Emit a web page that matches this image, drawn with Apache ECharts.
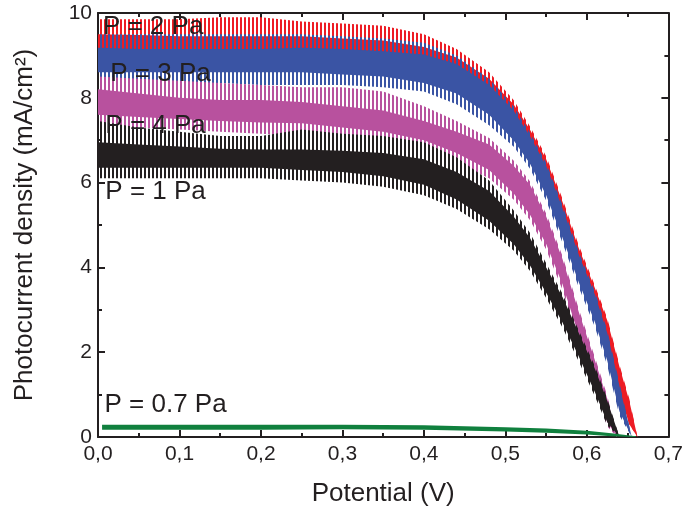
<!DOCTYPE html>
<html>
<head>
<meta charset="utf-8">
<script src="https://cdn.jsdelivr.net/npm/echarts@6/dist/echarts.min.js"></script>
<style>
  html, body { margin: 0; padding: 0; background: #fff; }
  #chart { width: 686px; height: 512px; }
</style>
</head>
<body>
<div id="chart"></div>
<script>
// 坐标轴刻度
const xTicks = [0, 0.1, 0.2, 0.3, 0.4, 0.5, 0.6, 0.7];
const yTicks = [0, 2, 4, 6, 8, 10];

// P = 2 Pa (红)
const red_V    = [0, 0.05, 0.1, 0.15, 0.2, 0.25, 0.3, 0.35, 0.4, 0.44, 0.48, 0.51, 0.53, 0.55, 0.57, 0.59, 0.61, 0.625, 0.64, 0.652, 0.662];
const red_hi   = [9.5, 9.48, 9.45, 9.45, 9.45, 9.45, 9.4, 9.35, 9.2, 8.95, 8.45, 7.85, 7.25, 6.55, 5.55, 4.45, 3.5, 2.75, 1.65, 0.85, 0];
const red_lo   = [9.0, 9.0, 9.0, 9.0, 9.0, 9.0, 8.95, 8.9, 8.75, 8.45, 7.85, 7.2, 6.6, 5.85, 4.85, 3.8, 2.85, 2.1, 1.05, 0.3, 0];
const red_spHi = [9.85, 9.85, 9.85, 9.9, 9.9, 9.8, 9.75, 9.7, 9.5, 9.15, 8.6, 7.95, 7.33, 6.62, 5.62, 4.52, 3.56, 2.8, 1.7, 0.9, 0];

// P = 3 Pa (蓝)
const blue_V    = [0, 0.05, 0.1, 0.15, 0.2, 0.25, 0.3, 0.35, 0.4, 0.44, 0.48, 0.51, 0.53, 0.55, 0.57, 0.59, 0.61, 0.625, 0.64, 0.655];
const blue_hi   = [9.18, 9.15, 9.15, 9.15, 9.15, 9.18, 9.15, 9.1, 9.02, 8.8, 8.3, 7.7, 7.1, 6.4, 5.4, 4.3, 3.35, 2.45, 1.2, 0];
const blue_lo   = [8.6, 8.6, 8.6, 8.6, 8.6, 8.6, 8.55, 8.5, 8.35, 8.1, 7.6, 7.0, 6.45, 5.7, 4.7, 3.65, 2.7, 1.8, 0.6, 0];
const blue_spHi = [9.5, 9.5, 9.5, 9.5, 9.5, 9.5, 9.45, 9.4, 9.3, 9.0, 8.45, 7.8, 7.18, 6.47, 5.47, 4.37, 3.42, 2.52, 1.27, 0];
const blue_spLo = [8.35, 8.35, 8.35, 8.35, 8.3, 8.3, 8.3, 8.25, 8.15, 7.85, 7.35, 6.85, 6.33, 5.58, 4.58, 3.53, 2.58, 1.68, 0.5, 0];

// P = 4 Pa (品红)
const mag_V    = [0, 0.05, 0.1, 0.15, 0.2, 0.25, 0.3, 0.35, 0.4, 0.44, 0.48, 0.51, 0.53, 0.55, 0.57, 0.59, 0.61, 0.625, 0.637];
const mag_hi   = [8.2, 8.1, 8.0, 7.95, 7.95, 7.9, 7.8, 7.7, 7.45, 7.2, 6.9, 6.4, 5.95, 5.2, 4.2, 2.95, 1.8, 0.9, 0];
const mag_lo   = [7.6, 7.55, 7.5, 7.45, 7.42, 7.4, 7.3, 7.2, 7.0, 6.7, 6.3, 5.75, 5.25, 4.55, 3.6, 2.4, 1.2, 0.35, 0];
const mag_spHi = [8.5, 8.45, 8.4, 8.35, 8.3, 8.25, 8.25, 8.15, 7.8, 7.45, 7.05, 6.52, 6.03, 5.27, 4.27, 3.02, 1.87, 0.97, 0];
const mag_spLo = [7.3, 7.3, 7.25, 7.2, 7.15, 7.1, 7.05, 6.95, 6.75, 6.45, 6.1, 5.6, 5.12, 4.42, 3.47, 2.27, 1.07, 0.25, 0];

// P = 1 Pa (黑)
const blk_V    = [0, 0.05, 0.1, 0.15, 0.2, 0.25, 0.3, 0.35, 0.4, 0.44, 0.48, 0.51, 0.53, 0.55, 0.57, 0.59, 0.61, 0.625, 0.64];
const blk_hi   = [6.95, 6.9, 6.85, 6.8, 6.78, 6.78, 6.75, 6.7, 6.55, 6.25, 5.8, 5.2, 4.7, 4.0, 3.3, 2.45, 1.6, 0.85, 0];
const blk_lo   = [6.35, 6.35, 6.35, 6.35, 6.35, 6.3, 6.25, 6.15, 5.95, 5.6, 5.1, 4.55, 4.05, 3.4, 2.7, 1.9, 1.05, 0.35, 0];
const blk_spHi = [7.45, 7.3, 7.2, 7.1, 7.1, 7.25, 7.15, 7.1, 6.95, 6.6, 6.05, 5.35, 4.82, 4.1, 3.38, 2.52, 1.66, 0.9, 0];
const blk_spLo = [6.1, 6.1, 6.1, 6.1, 6.1, 6.05, 6.0, 5.9, 5.7, 5.38, 4.9, 4.4, 3.92, 3.28, 2.58, 1.78, 0.95, 0.27, 0];

// P = 0.7 Pa (绿)
const grn_V  = [0.005, 0.1, 0.2, 0.3, 0.4, 0.5, 0.55, 0.6, 0.63, 0.66];
const grn_hi = [0.29, 0.29, 0.29, 0.29, 0.28, 0.23, 0.2, 0.15, 0.09, 0.02];
const grn_lo = [0.17, 0.17, 0.17, 0.18, 0.17, 0.13, 0.1, 0.06, 0.02, 0];

// 曲线标注
const labelText = ['P = 2 Pa', 'P = 3 Pa', 'P = 4 Pa', 'P = 1 Pa', 'P = 0.7 Pa'];
const labelV    = [0.006, 0.015, 0.009, 0.009, 0.008];
const labelJ    = [9.67, 8.56, 7.34, 5.79, 0.75];

const INK = '#231f20';
const FONT = '"Liberation Sans", Arial, sans-serif';

function stripes(color) {
  const c = document.createElement('canvas');
  c.width = 4; c.height = 4;
  const g = c.getContext('2d');
  g.fillStyle = color;
  g.fillRect(0, 0, 2, 4);
  return { image: c, repeat: 'repeat' };
}

// 把上下包络画成一个多边形
function band(xs, lo, hi, fill) {
  return {
    type: 'custom',
    clip: true,
    silent: true,
    data: xs.map((x, i) => [x, lo[i], hi[i]]),
    encode: { x: 0, y: [1, 2] },
    renderItem: function (params, api) {
      if (params.dataIndexInside !== 0) return;
      const n = params.dataInsideLength;
      const top = [], bot = [];
      for (let i = 0; i < n; i++) {
        const x = api.value(0, i);
        top.push(api.coord([x, api.value(2, i)]));
        bot.push(api.coord([x, api.value(1, i)]));
      }
      return {
        type: 'polygon',
        shape: { points: top.concat(bot.reverse()) },
        style: { fill: fill }
      };
    }
  };
}

const C_RED = '#ed1c24', C_BLUE = '#3a54a4', C_MAG = '#b8519e', C_BLK = '#231f20', C_GRN = '#10803e';

const axisCommon = {
  axisLine: { show: true, onZero: false, lineStyle: { color: INK, width: 2 } },
  axisTick: { show: true, inside: true, length: 7, lineStyle: { color: INK, width: 2 } },
  minorTick: { show: true, splitNumber: 2, length: 4, lineStyle: { color: INK, width: 2 } },
  splitLine: { show: false }
};

const chart = echarts.init(document.getElementById('chart'));
chart.setOption({
  animation: false,
  backgroundColor: '#fff',
  grid: { left: 98, right: 17, top: 13, bottom: 74 },
  xAxis: [
    Object.assign({
      type: 'value', position: 'bottom', min: xTicks[0], max: xTicks[xTicks.length - 1], interval: 0.1,
      name: 'Potential (V)', nameLocation: 'middle', nameGap: 44,
      nameTextStyle: { fontFamily: FONT, fontSize: 26, color: INK },
      axisLabel: {
        fontFamily: FONT, fontSize: 21, color: INK, margin: 7,
        formatter: v => v.toFixed(1).replace('.', ',')
      }
    }, axisCommon),
    Object.assign({
      type: 'value', position: 'top', min: xTicks[0], max: xTicks[xTicks.length - 1], interval: 0.1,
      axisLabel: { show: false }
    }, axisCommon)
  ],
  yAxis: [
    Object.assign({
      type: 'value', position: 'left', min: yTicks[0], max: yTicks[yTicks.length - 1], interval: 2,
      name: 'Photocurrent density (mA/cm²)', nameLocation: 'middle', nameGap: 60,
      nameTextStyle: { fontFamily: FONT, fontSize: 26, color: INK },
      axisLabel: { fontFamily: FONT, fontSize: 21, color: INK, margin: 6 }
    }, axisCommon),
    Object.assign({
      type: 'value', position: 'right', min: yTicks[0], max: yTicks[yTicks.length - 1], interval: 2,
      axisLabel: { show: false }
    }, axisCommon)
  ],
  series: [
    band(red_V, red_lo, red_spHi, stripes(C_RED)),
    band(red_V, red_lo, red_hi, C_RED),
    band(blue_V, blue_spLo, blue_spHi, stripes(C_BLUE)),
    band(blue_V, blue_lo, blue_hi, C_BLUE),
    band(mag_V, mag_spLo, mag_spHi, stripes(C_MAG)),
    band(mag_V, mag_lo, mag_hi, C_MAG),
    band(blk_V, blk_spLo, blk_spHi, stripes(C_BLK)),
    band(blk_V, blk_lo, blk_hi, C_BLK),
    band(grn_V, grn_lo, grn_hi, C_GRN),
    {
      type: 'scatter',
      symbolSize: 0,
      silent: true,
      z: 10,
      itemStyle: { opacity: 1 },
      data: labelText.map((t, i) => [labelV[i], labelJ[i], t]),
      label: {
        show: true, position: 'right', distance: 0, opacity: 1,
        formatter: p => p.value[2],
        fontFamily: FONT, fontSize: 26, color: INK
      }
    }
  ]
});
</script>
</body>
</html>
